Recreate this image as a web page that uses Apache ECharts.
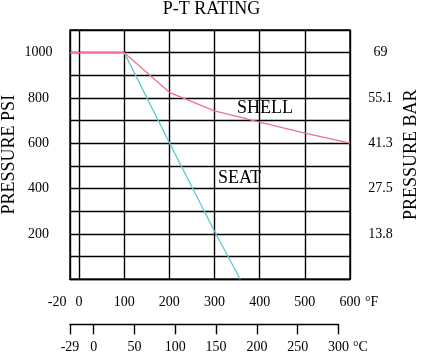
<!DOCTYPE html>
<html>
<head>
<meta charset="utf-8">
<script src="https://cdn.jsdelivr.net/npm/echarts@6/dist/echarts.min.js"></script>
<style>
  html, body { margin: 0; padding: 0; background: #fff; }
  #main { width: 423px; height: 354px; }
</style>
</head>
<body>
<div id="main"></div>
<script>
// temperature ticks
var fTicks = [-20, 0, 100, 200, 300, 400, 500, 600]
var cTicks = [-29, 0, 50, 100, 150, 200, 250, 300]
// pressure ticks (psi) and matching bar labels
var psiLabels = [200, 400, 600, 800, 1000]
var barLabels = ['13.8', '27.5', '41.3', '55.1', '69']

// [°F, psi]
var shell = [[-20, 1000], [100, 1000], [200, 825], [300, 743], [400, 693], [500, 645], [600, 601]]
var seat = [[-20, 1000], [100, 1000], [200, 603], [300, 212], [357, 0]]

var font = 'Liberation Serif'
var myChart = echarts.init(document.getElementById('main'))

var option = {
  animation: false,
  textStyle: { fontFamily: font, color: '#000' },
  title: {
    text: 'P-T RATING',
    left: 'center',
    top: 0,
    padding: 0,
    textStyle: { fontFamily: font, fontSize: 18, fontWeight: 'normal', color: '#000' }
  },
  grid: [{
    left: 70, right: 73, top: 30, bottom: 74.7,
    outerBoundsMode: 'none',
    show: true, borderColor: '#000', borderWidth: 1.4
  }, {
    left: 70, right: 84.5, top: 300, bottom: 29.7,
    outerBoundsMode: 'none'
  }],
  xAxis: [{
    type: 'value',
    gridIndex: 0,
    min: -20,
    max: 600,
    axisLine: { lineStyle: { color: '#000', width: 1.4 } },
    axisTick: { show: false, customValues: fTicks },
    splitLine: { show: true, lineStyle: { color: '#000', width: 1.4 } },
    axisLabel: {
      customValues: fTicks,
      alignMinLabel: 'right',
      margin: 16,
      fontSize: 14,
      fontFamily: font,
      color: '#000',
      formatter: function (v) {
        return v === -20 ? '-20 ' : String(v)
      }
    }
  }, {
    type: 'value',
    gridIndex: 1,
    min: -29,
    max: 300,
    axisLine: { show: true, lineStyle: { color: '#000', width: 1.4 } },
    axisTick: { show: true, length: 10, customValues: cTicks, lineStyle: { color: '#000', width: 1.4 } },
    splitLine: { show: false },
    axisLabel: { customValues: cTicks, margin: 16, fontSize: 14, fontFamily: font, color: '#000' }
  }],
  yAxis: [{
    type: 'value',
    gridIndex: 0,
    min: 0,
    max: 1100,
    interval: 100,
    name: 'PRESSURE PSI',
    nameLocation: 'middle',
    nameGap: 52,
    nameRotate: 90,
    nameMoveOverlap: false,
    nameTextStyle: { fontFamily: font, fontSize: 18, color: '#000' },
    axisLine: { show: false },
    axisTick: { show: false },
    splitLine: { show: true, lineStyle: { color: '#000', width: 1.4 } },
    axisLabel: {
      customValues: psiLabels,
      align: 'center',
      margin: 31.5,
      fontSize: 14,
      fontFamily: font,
      color: '#000',
      formatter: function (v) { return String(v) }
    }
  }, {
    type: 'value',
    gridIndex: 0,
    position: 'right',
    min: 0,
    max: 1100,
    interval: 100,
    name: 'PRESSURE BAR',
    nameLocation: 'middle',
    nameGap: 52,
    nameRotate: 90,
    nameMoveOverlap: false,
    nameTextStyle: { fontFamily: font, fontSize: 18, color: '#000' },
    axisLine: { show: false },
    axisTick: { show: false },
    splitLine: { show: false },
    axisLabel: {
      customValues: psiLabels,
      align: 'center',
      margin: 30.5,
      fontSize: 14,
      fontFamily: font,
      color: '#000',
      formatter: function (v) {
        return barLabels[psiLabels.indexOf(v)]
      }
    }
  }, {
    type: 'value',
    gridIndex: 1,
    min: 0,
    max: 1,
    show: false
  }],
  graphic: [
    { type: 'text', left: 365, top: 295, style: { text: '°F', font: '14px "Liberation Serif"', fill: '#000' } },
    { type: 'text', left: 353, top: 340, style: { text: '°C', font: '14px "Liberation Serif"', fill: '#000' } },
    { type: 'text', left: 237, top: 99, style: { text: 'SHELL', font: '18px "Liberation Serif"', fill: '#000' } },
    { type: 'text', left: 218, top: 169, style: { text: 'SEAT', font: '18px "Liberation Serif"', fill: '#000' } }
  ],
  series: [{
    name: 'SEAT',
    type: 'line',
    xAxisIndex: 0,
    yAxisIndex: 0,
    data: seat,
    symbol: 'none',
    lineStyle: { color: '#5ccbd4', width: 1.3 },
    z: 3
  }, {
    name: 'SHELL',
    type: 'line',
    xAxisIndex: 0,
    yAxisIndex: 0,
    data: shell,
    symbol: 'none',
    lineStyle: { color: '#f0708f', width: 1.3 },
    z: 4
  }]
}
myChart.setOption(option)
</script>
</body>
</html>
